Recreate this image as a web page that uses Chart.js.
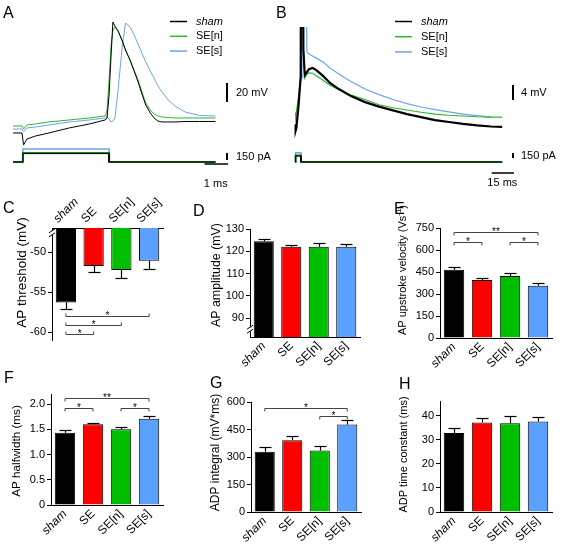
<!DOCTYPE html>
<html>
<head>
<meta charset="utf-8">
<title>AP and ADP properties</title>
<script src="https://cdn.jsdelivr.net/npm/chart.js@4.4.1/dist/chart.umd.min.js"></script>
<style>
  body { margin: 0; background: #fff; }
  #fig { position: relative; width: 563px; height: 544px; overflow: hidden; font-family: 'Liberation Sans', Arial, sans-serif; }
  #fig canvas { position: absolute; }
  .lbl { position: absolute; font-size: 16px; line-height: 16px; color: #000; }
</style>
</head>
<body>
<div id="fig">
  <canvas id="chartA" width="280" height="195" style="left:0px;top:0px"></canvas>
  <canvas id="chartB" width="283" height="195" style="left:280px;top:0px"></canvas>
  <canvas id="chartC" width="185" height="180" style="left:0px;top:190px"></canvas>
  <canvas id="chartD" width="185" height="180" style="left:185px;top:190px"></canvas>
  <canvas id="chartE" width="193" height="180" style="left:370px;top:190px"></canvas>
  <canvas id="chartF" width="185" height="179" style="left:0px;top:365px"></canvas>
  <canvas id="chartG" width="185" height="179" style="left:185px;top:365px"></canvas>
  <canvas id="chartH" width="193" height="179" style="left:370px;top:365px"></canvas>
  <div class="lbl" style="left:3px;top:5px">A</div>
  <div class="lbl" style="left:276px;top:5px">B</div>
  <div class="lbl" style="left:3px;top:200px">C</div>
  <div class="lbl" style="left:193px;top:203px">D</div>
  <div class="lbl" style="left:394px;top:201px">E</div>
  <div class="lbl" style="left:4px;top:370px">F</div>
  <div class="lbl" style="left:210px;top:375px">G</div>
  <div class="lbl" style="left:399px;top:376px">H</div>
</div>
<script>
const FONT = "'Liberation Sans', Arial, sans-serif";

// groups and colours
const groups = ['sham', 'SE', 'SE[n]', 'SE[s]'];
const barColors = ['#000000', '#ff0000', '#00bf00', '#5aa0ff'];

// A: single AP at rheobase (time ms, membrane potential mV)
const aTime = [0, 0.4, 0.47, 0.62, 1.0, 1.6, 2.5, 3.4, 4.1, 4.18, 4.27, 4.36, 4.44, 4.53, 4.67, 4.84, 5.0, 5.2, 5.38, 5.56, 5.73, 5.9, 6.1, 6.27, 6.44, 6.62, 6.9, 7.2, 7.65, 8.3, 9.0];
const aSham = [-70, -70, -82.6, -76.3, -73.2, -70, -64.7, -60.5, -56.3, -54.2, -30, 12.1, 46.8, 42.6, 37.4, 27.9, 17.4, 6.8, -4.7, -16.3, -28.9, -40.5, -48.9, -54.2, -57.4, -58.4, -58.4, -58.4, -57.9, -57.9, -57.9];
const aSEn = [-62.6, -62.6, -65.8, -61.6, -60.5, -58.4, -56.3, -54.2, -52.1, -45.8, -14.2, 22.6, 38.4, 41.6, 37.4, 27.9, 17.4, 6.8, -3.7, -14.2, -26.8, -38.4, -45.8, -50, -52.1, -53.2, -53.7, -54.2, -54.2, -54.2, -54.2];
const aSEs = [-65.8, -65.8, -68.9, -64.7, -63.7, -61.6, -58.4, -56.3, -54.2, -53.2, -55.3, -58.4, -57.4, -54.2, -24.7, 17.4, 45.8, 41.6, 33.2, 23.7, 14.2, 4.7, -4.7, -12.1, -20.5, -26.8, -35.3, -41.6, -47.9, -51.6, -52.1];

// B: afterdepolarisation (time ms, mV)
const bTime = [0, 0.4, 0.47, 1, 2.5, 4.1, 4.4, 5, 6, 7, 8.5, 10, 12.5, 15, 20, 25, 30, 35, 40, 50, 60, 70, 80, 90, 100, 110, 120, 130, 140, 148];
const bSham = [-70, -70, -71.5, -70.8, -65, -57, 40, 30, -50, -56.7, -55.9, -55.1, -54.8, -55.3, -56.9, -58.8, -60.1, -61.2, -62.3, -63.9, -65.1, -66.1, -67.1, -67.9, -68.7, -69.2, -69.7, -70.1, -70.4, -70.5];
const bSEn = [-66.8, -66.8, -67.3, -66.5, -62.5, -57, 40, 30, -50, -57.5, -56.4, -56.1, -56.2, -56.8, -58.1, -59.4, -60.3, -61.3, -62, -63.2, -64.6, -65.4, -66, -66.6, -67.1, -67.4, -67.6, -67.8, -67.9, -67.9];
const bSEs = [-68.1, -68.1, -68.7, -68, -64, -58, -57.5, 40, 35, 10, -50.5, -51.1, -51.6, -52.1, -53.2, -54.8, -56.1, -57.3, -58.4, -60.4, -61.9, -63.2, -64.3, -65.2, -65.9, -66.5, -67.1, -67.5, -67.9, null];

// injected current steps (pA)
const stepTimeA = [0, 0.44, 0.44, 4.27, 4.27, 9.0];
const stepTimeB = [0, 0.44, 0.44, 4.27, 4.27, 148];
const stepSham = [0, 0, 180, 180, 0, 0];
const stepSEn = [0, 0, 195, 195, 0, 0];
const stepSEs = [0, 0, 280, 280, 0, 0];

// C-H: mean and SEM per group
const cMean = [-56.3, -51.75, -52.25, -51.1];
const cErr = [0.85, 0.75, 1.05, 1.05];
const dMean = [124.5, 122, 122, 122];
const dErr = [1.2, 1.0, 1.8, 1.2];
const eMean = [465, 395, 423, 357];
const eErr = [17, 11, 18, 16];
const fMean = [1.43, 1.6, 1.5, 1.71];
const fErr = [0.06, 0.03, 0.045, 0.045];
const gMean = [329, 392, 335, 477];
const gErr = [24, 25, 27, 24];
const hMean = [32.7, 37.1, 36.8, 37.5];
const hErr = [2.1, 1.8, 2.8, 1.7];

// tick values / labels
const cTicks = [-60, -55, -50];
const dTicks = [90, 100, 110, 120, 130];
const eTicks = [0, 150, 300, 450, 600, 750];
const fTicks = [0, 0.5, 1, 1.5, 2];
const fTickLabels = ['0', '0.5', '1.0', '1.5', '2.0'];
const gTicks = [0, 150, 300, 450, 600];
const hTicks = [0, 10, 20, 30, 40];

// significance: [group a, group b, level, stars]
const cSig = [[0, 3, -58, '*'], [0, 2, -59.12, '*'], [0, 1, -60.25, '*']];
const eSig = [[0, 3, 725, '**'], [0, 1, 655, '*'], [2, 3, 655, '*']];
const fSig = [[0, 3, 2.12, '**'], [0, 1, 1.92, '*'], [2, 3, 1.92, '*']];
const gSig = [[0, 3, 569, '*'], [2, 3, 524, '*']];

function seg(ctx, x1, y1, x2, y2) {
  ctx.beginPath(); ctx.moveTo(x1, y1); ctx.lineTo(x2, y2); ctx.stroke();
}

function xy(ts, vs) {
  return ts.map((t, i) => ({x: t, y: vs[i]}));
}

// legend + scale bars for the trace panels
function tracePlugin(o) {
  return {
    id: 'traceDecor',
    afterDraw(chart) {
      const ctx = chart.ctx;
      const sx = chart.scales.x, sv = chart.scales.y, si = chart.scales.y2;
      ctx.save();
      ctx.textBaseline = 'middle';
      chart.data.datasets.filter(d => d.legend).forEach((d, k) => {
        const y = o.legY + k * o.legDy;
        ctx.strokeStyle = d.borderColor; ctx.lineWidth = 1.5;
        seg(ctx, o.legX, y, o.legX + 17, y);
        ctx.fillStyle = '#000';
        ctx.font = (k === 0 ? 'italic ' : '') + '11px ' + FONT;
        ctx.textAlign = 'left';
        ctx.fillText(d.label, o.legX + 26, y);
      });
      const b = o.bars;
      const bx = Math.round(sx.getPixelForValue(b.t));
      ctx.strokeStyle = '#000'; ctx.fillStyle = '#000';
      ctx.font = '11px ' + FONT;
      ctx.lineWidth = 2;
      const v0 = sv.getPixelForValue(b.v0), v1 = sv.getPixelForValue(b.v0 + b.mv);
      seg(ctx, bx, v0, bx, v1);
      ctx.fillText(b.mvLabel, bx + b.dx, (v0 + v1) / 2);
      const i0 = si.getPixelForValue(b.i0), i1 = si.getPixelForValue(b.i0 + b.pa);
      seg(ctx, bx, i0, bx, i1);
      ctx.fillText(b.paLabel, bx + b.dx, (i0 + i1) / 2);
      const ty = si.getPixelForValue(b.msAt);
      const tx0 = sx.getPixelForValue(b.t - b.ms);
      ctx.lineWidth = 1.5;
      seg(ctx, tx0, ty, bx + 1, ty);
      ctx.textAlign = 'center';
      ctx.fillText(b.msLabel, (tx0 + bx) / 2, ty + b.msDy);
      ctx.restore();
    }
  };
}

function traceChart(id, c) {
  const ds = [];
  const cols = ['#000000', '#2db52d', '#6aa6e8'];
  const names = ['sham', 'SE[n]', 'SE[s]'];
  c.v.forEach((vals, k) => ds.push({
    label: names[k], legend: true, data: xy(c.time, vals), yAxisID: 'y',
    borderColor: cols[k], borderWidth: c.vWidth[k]
  }));
  const stepCols = ['#000000', '#207d20', '#6aa6e8'];
  const stepW = [1, 2, 1.5];
  [stepSham, stepSEn, stepSEs].forEach((vals, k) => ds.push({
    label: names[k] + ' I', data: xy(c.stepTime, vals), yAxisID: 'y2',
    borderColor: stepCols[k], borderWidth: stepW[k]
  }));
  new Chart(document.getElementById(id), {
    type: 'line',
    data: {datasets: ds},
    options: {
      responsive: false, animation: false, events: [], devicePixelRatio: 1,
      layout: {padding: {top: c.padTop, left: 0, right: 0, bottom: 0}},
      elements: {point: {radius: 0}, line: {tension: 0}},
      scales: {
        x: {type: 'linear', display: false, min: c.x[0], max: c.x[1]},
        y: {display: false, min: c.y[0], max: c.y[1]},
        y2: {display: false, min: c.y2[0], max: c.y2[1]}
      },
      plugins: {legend: {display: false}, tooltip: {enabled: false}}
    },
    plugins: [tracePlugin(c.decor)]
  });
}

traceChart('chartA', {
  time: aTime, v: [aSham, aSEn, aSEs], vWidth: [1, 1, 1], stepTime: stepTimeA, padTop: 0,
  x: [-0.578, 11.867], y: [-135.3, 70], y2: [-706, 3467],
  decor: {legX: 170, legY: 21.5, legDy: 14.8,
    bars: {t: 9.51, v0: -37.4, mv: 20, mvLabel: '20 mV', i0: 43, pa: 150, paLabel: '150 pA',
      ms: 1, msAt: -43, msLabel: '1 ms', msDy: 19.5, dx: 9}}
});

traceChart('chartB', {
  time: bTime, v: [bSham, bSEn, bSEs], vWidth: [2.2, 1.2, 1.2], stepTime: stepTimeB, padTop: 27,
  x: [-10.71, 191.43], y: [-88.67, -43.87], y2: [-990, 4050],
  decor: {legX: 115, legY: 21.5, legDy: 15.2,
    bars: {t: 155.5, v0: -63.33, mv: 4, mvLabel: '4 mV', i0: 120, pa: 150, paLabel: '150 pA',
      ms: 15, msAt: -330, msLabel: '15 ms', msDy: 9.5, dx: 8}}
});

// error bars, significance brackets, axis break, y title
function barPlugin(c) {
  return {
    id: 'barDecor',
    afterDatasetsDraw(chart) {
      const ctx = chart.ctx, sx = chart.scales.x, sy = chart.scales.y;
      ctx.save();
      ctx.strokeStyle = '#000'; ctx.lineWidth = 1.2;
      c.mean.forEach((m, i) => {
        const px = Math.round(sx.getPixelForValue(i)) + 0.5;
        const p0 = sy.getPixelForValue(m);
        const p1 = Math.round(sy.getPixelForValue(m + c.dir * c.err[i])) + 0.5;
        seg(ctx, px, p0, px, p1);
        seg(ctx, px - 6, p1, px + 6, p1);
      });
      ctx.restore();
    },
    afterDraw(chart) {
      const ctx = chart.ctx, sx = chart.scales.x, sy = chart.scales.y;
      ctx.save();
      (c.sig || []).forEach(s => {
        const xa = sx.getPixelForValue(s[0]), xb = sx.getPixelForValue(s[1]);
        const py = Math.round(sy.getPixelForValue(s[2])) + 0.5;
        const tk = c.dir < 0 ? -3 : 3;
        ctx.strokeStyle = '#444'; ctx.lineWidth = 1;
        ctx.beginPath();
        ctx.moveTo(xa, py + tk); ctx.lineTo(xa, py); ctx.lineTo(xb, py); ctx.lineTo(xb, py + tk);
        ctx.stroke();
        ctx.fillStyle = '#000'; ctx.font = '10px ' + FONT;
        ctx.textAlign = 'center'; ctx.textBaseline = 'alphabetic';
        ctx.fillText(s[3], (xa + xb) / 2, py + 2.5);
      });
      if (c.brk !== undefined) {
        const ax = chart.chartArea.left;
        const py = sy.getPixelForValue(c.brk);
        ctx.fillStyle = '#fff';
        ctx.fillRect(ax - 2, py - 2, 4, 4);
        ctx.strokeStyle = '#000'; ctx.lineWidth = 1;
        seg(ctx, ax - 3, py, ax + 3, py - 4);
        seg(ctx, ax - 3, py + 4, ax + 3, py);
      }
      // rotated y title, parts may be superscript
      const size = c.titleSize;
      const supSize = Math.round(size * 0.7);
      const parts = c.title.map(p => typeof p === 'string' ? {t: p, sup: false} : p);
      let total = 0;
      parts.forEach(p => {
        ctx.font = (p.sup ? supSize : size) + 'px ' + FONT;
        p.w = ctx.measureText(p.t).width;
        total += p.w;
      });
      ctx.fillStyle = '#000';
      ctx.textAlign = 'left'; ctx.textBaseline = 'middle';
      ctx.translate(c.titleX, c.titleY);
      ctx.rotate(-Math.PI / 2);
      let cx = -total / 2;
      parts.forEach(p => {
        ctx.font = (p.sup ? supSize : size) + 'px ' + FONT;
        ctx.fillText(p.t, cx, p.sup ? -size * 0.35 : 0);
        cx += p.w;
      });
      ctx.restore();
    }
  };
}

function barChart(id, c) {
  const labels = c.tickLabels || c.ticks.map(String);
  new Chart(document.getElementById(id), {
    type: 'bar',
    data: {
      labels: groups,
      datasets: [{
        data: c.mean, backgroundColor: barColors, borderColor: '#000', borderWidth: 1,
        categoryPercentage: 1, barPercentage: 0.73
      }]
    },
    options: {
      responsive: false, animation: false, events: [], devicePixelRatio: 1,
      layout: {padding: c.pad},
      scales: {
        x: {
          position: c.top ? 'top' : 'bottom',
          grid: {display: false, drawTicks: false},
          border: {display: true, color: '#000', width: 1},
          ticks: {
            autoSkip: false, minRotation: 45, maxRotation: 45, padding: 2, color: '#000',
            font: ctx => ({family: FONT, size: 12, style: ctx.index === 0 ? 'italic' : 'normal'})
          },
          afterFit: s => { s.height = c.xH; }
        },
        y: {
          min: c.min, max: c.max,
          grid: {drawOnChartArea: false, drawTicks: true, tickLength: 4, color: '#000'},
          border: {display: true, color: '#000', width: 1},
          ticks: {padding: 2, color: '#000', font: {family: FONT, size: 11},
            callback: (v, i) => labels[i]},
          afterBuildTicks: s => { s.ticks = c.ticks.map(v => ({value: v})); },
          afterFit: s => { s.width = c.yW; }
        }
      },
      plugins: {legend: {display: false}, tooltip: {enabled: false}}
    },
    plugins: [barPlugin(c)]
  });
}

barChart('chartC', {mean: cMean, err: cErr, dir: -1, min: -61, max: -47, ticks: cTicks, top: true,
  pad: {left: 0, top: 0, right: 22, bottom: 30}, xH: 38, yW: 52, sig: cSig, brk: -47.6,
  title: ['AP threshold (mV)'], titleSize: 13.5, titleX: 22, titleY: 82.5});
barChart('chartD', {mean: dMean, err: dErr, dir: 1, min: 81.5, max: 130, ticks: dTicks,
  pad: {left: 0, top: 39, right: 10, bottom: 0}, xH: 33, yW: 65, brk: 85,
  title: ['AP amplitude (mV)'], titleSize: 12.4, titleX: 32, titleY: 85});
barChart('chartE', {mean: eMean, err: eErr, dir: 1, min: 0, max: 750, ticks: eTicks,
  pad: {left: 0, top: 38, right: 11, bottom: 0}, xH: 32, yW: 70, sig: eSig,
  title: ['AP upstroke velocity (Vs', {t: '-1', sup: true}, ')'], titleSize: 11, titleX: 33, titleY: 80});
barChart('chartF', {mean: fMean, err: fErr, dir: 1, min: 0, max: 2.2, ticks: fTicks, tickLabels: fTickLabels,
  pad: {left: 0, top: 29, right: 22, bottom: 0}, xH: 39, yW: 51, sig: fSig,
  title: ['AP halfwidth (ms)'], titleSize: 11.7, titleX: 17, titleY: 86});
barChart('chartG', {mean: gMean, err: gErr, dir: 1, min: 0, max: 600, ticks: gTicks,
  pad: {left: 0, top: 37, right: 9, bottom: 0}, xH: 32, yW: 66, sig: gSig,
  title: ['ADP integral (mV*ms)'], titleSize: 12, titleX: 31, titleY: 87.5});
barChart('chartH', {mean: hMean, err: hErr, dir: 1, min: 0, max: 46, ticks: hTicks,
  pad: {left: 0, top: 36, right: 11, bottom: 0}, xH: 32, yW: 70,
  title: ['ADP time constant (ms)'], titleSize: 11, titleX: 34, titleY: 89.5});
</script>
</body>
</html>
